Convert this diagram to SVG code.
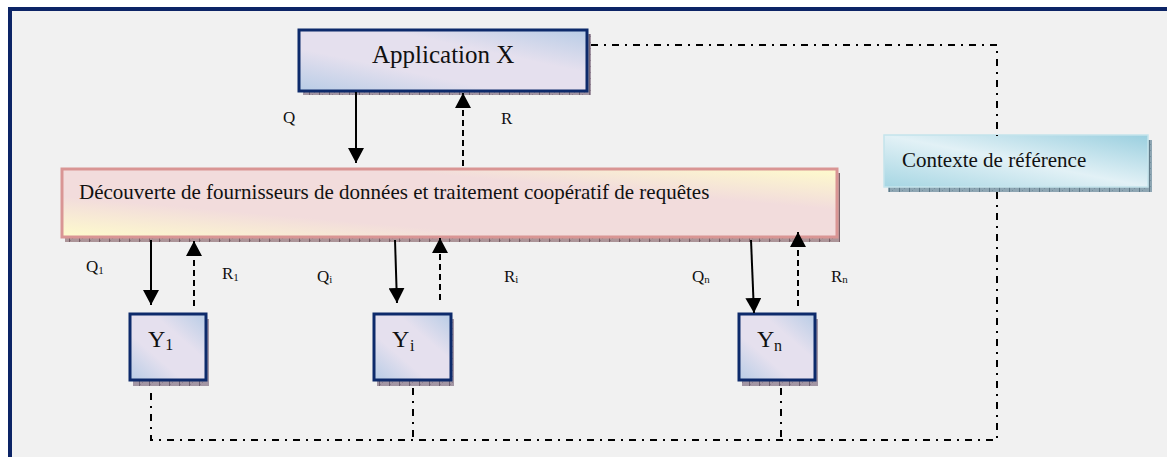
<svg xmlns="http://www.w3.org/2000/svg" width="1167" height="457" viewBox="0 0 1167 457">
  <defs>
    <style>
      text { font-family: "Liberation Serif", "Times New Roman", serif; fill: #111; }
      .lbl { font-size: 17px; }
      .sub { font-size: 11px; }
      .big { font-size: 25px; }
      .ytxt { font-size: 24px; }
      .ysub { font-size: 16px; }
      .mid { font-size: 21px; }
      .solid { stroke: #000; stroke-width: 2; fill: none; }
      .dash { stroke: #000; stroke-width: 2; fill: none; stroke-dasharray: 6 4; }
      .dashdot { stroke: #000; stroke-width: 2; fill: none; stroke-dasharray: 7 6 2 6; }
      .bluebox { fill: url(#gBlue); stroke: #0d2a6b; stroke-width: 3; }
    </style>
    <linearGradient id="gBlue" x1="0" y1="1" x2="1" y2="0">
      <stop offset="0" stop-color="#b8cce6"/>
      <stop offset="0.35" stop-color="#e5e0ee"/>
      <stop offset="0.65" stop-color="#e5e0ee"/>
      <stop offset="1" stop-color="#b8cce6"/>
    </linearGradient>
    <linearGradient id="gPink" x1="0" y1="1" x2="1" y2="0">
      <stop offset="0" stop-color="#fefbcc"/>
      <stop offset="0.3" stop-color="#f2dcdc"/>
      <stop offset="0.7" stop-color="#f2dcdc"/>
      <stop offset="1" stop-color="#fefbcc"/>
    </linearGradient>
    <linearGradient id="gCyan" x1="0" y1="1" x2="1" y2="0">
      <stop offset="0" stop-color="#a6d6e3"/>
      <stop offset="0.5" stop-color="#e2f1f6"/>
      <stop offset="1" stop-color="#9acfdf"/>
    </linearGradient>
    <pattern id="shPurple" width="10" height="6" patternUnits="userSpaceOnUse">
      <rect width="10" height="6" fill="#a396a4"/>
      <rect x="0" y="0" width="1" height="1" fill="#8a7c8c"/>
      <rect x="4" y="2" width="1" height="1" fill="#8a7c8c"/>
      <rect x="2" y="4" width="1" height="1" fill="#8a7c8c"/>
      <rect x="9" y="0" width="1" height="6" fill="#6f6272"/>
    </pattern>
    <pattern id="shPink" width="10" height="6" patternUnits="userSpaceOnUse">
      <rect width="10" height="6" fill="#ac9498"/>
      <rect x="0" y="0" width="1" height="1" fill="#8f7a80"/>
      <rect x="4" y="2" width="1" height="1" fill="#8f7a80"/>
      <rect x="2" y="4" width="1" height="1" fill="#8f7a80"/>
      <rect x="9" y="0" width="1" height="6" fill="#7a5f66"/>
    </pattern>
    <pattern id="shCyan" width="10" height="6" patternUnits="userSpaceOnUse">
      <rect width="10" height="6" fill="#8ea6b3"/>
      <rect x="0" y="0" width="1" height="1" fill="#73909e"/>
      <rect x="4" y="2" width="1" height="1" fill="#73909e"/>
      <rect x="2" y="4" width="1" height="1" fill="#73909e"/>
      <rect x="9" y="0" width="1" height="6" fill="#5f7a88"/>
    </pattern>
    <marker id="arr" markerUnits="userSpaceOnUse" markerWidth="15" markerHeight="16" refX="15" refY="8" orient="auto" viewBox="0 0 15 16">
      <path d="M0,0 L15,8 L0,16 z" fill="#000"/>
    </marker>
  </defs>

  <!-- frame -->
  <rect x="0" y="0" width="1167" height="457" fill="#ffffff"/>
  <rect x="10" y="9" width="1200" height="500" fill="#f1f1f1" stroke="#0c2466" stroke-width="4"/>

  <!-- nodes -->
  <g id="application-x">
    <rect x="303" y="34" width="288" height="61" fill="url(#shPurple)"/>
    <rect x="299" y="30" width="288" height="61" class="bluebox"/>
    <text x="372" y="63" class="big">Application X</text>
  </g>

  <g id="decouverte">
    <rect x="65" y="173" width="775" height="69" fill="url(#shPink)"/>
    <rect x="62" y="169" width="775" height="68" fill="url(#gPink)" stroke="#d99594" stroke-width="3"/>
    <text x="79" y="199" class="mid">Découverte de fournisseurs de données et traitement coopératif de requêtes</text>
  </g>

  <g id="contexte">
    <rect x="888" y="140" width="264" height="52" fill="url(#shCyan)"/>
    <rect x="884" y="135" width="264" height="52" fill="url(#gCyan)" stroke="#c4e4ec" stroke-width="1.5"/>
    <text x="902" y="167" class="mid">Contexte de référence</text>
  </g>

  <g id="y1">
    <rect x="133" y="319" width="76" height="67" fill="url(#shPurple)"/>
    <rect x="130" y="314" width="76" height="66" class="bluebox"/>
    <text x="148" y="347" class="ytxt">Y<tspan class="ysub" dy="3">1</tspan></text>
  </g>

  <g id="yi">
    <rect x="377" y="319" width="77" height="67" fill="url(#shPurple)"/>
    <rect x="374" y="314" width="77" height="66" class="bluebox"/>
    <text x="392" y="347" class="ytxt">Y</text>
    <text x="410" y="351" class="ysub">i</text>
  </g>

  <g id="yn">
    <rect x="742" y="319" width="76" height="67" fill="url(#shPurple)"/>
    <rect x="739" y="314" width="76" height="66" class="bluebox"/>
    <text x="757" y="347" class="ytxt">Y</text>
    <text x="774" y="351" class="ysub">n</text>
  </g>

  <!-- connectors -->
  <g id="connectors">
    <line x1="356" y1="92" x2="356" y2="163" class="solid" marker-end="url(#arr)"/>
    <line x1="463" y1="166" x2="463" y2="93" class="dash" marker-end="url(#arr)"/>

    <line x1="151" y1="240" x2="151" y2="305" class="solid" marker-end="url(#arr)"/>
    <line x1="194" y1="306" x2="194" y2="241" class="dash" marker-end="url(#arr)"/>

    <line x1="395" y1="240" x2="397" y2="303" class="solid" marker-end="url(#arr)"/>
    <line x1="440" y1="300" x2="440" y2="238" class="dash" marker-end="url(#arr)"/>

    <line x1="751" y1="240" x2="754" y2="313" class="solid" marker-end="url(#arr)"/>
    <line x1="798" y1="306" x2="798" y2="232" class="dash" marker-end="url(#arr)"/>

    <path d="M591,45 H997 V136" class="dashdot"/>
    <path d="M997,192 V440 H151 V388" class="dashdot"/>
    <path d="M413,388 V440" class="dashdot"/>
    <path d="M781,388 V440" class="dashdot"/>
  </g>

  <!-- labels -->
  <g id="labels">
    <text x="283" y="123" class="lbl">Q</text>
    <text x="501" y="124" class="lbl">R</text>
    <text x="86" y="272" class="lbl">Q<tspan class="sub" dy="2">1</tspan></text>
    <text x="222" y="279" class="lbl">R<tspan class="sub" dy="2">1</tspan></text>
    <text x="317" y="282" class="lbl">Q<tspan class="sub" dy="1">i</tspan></text>
    <text x="504" y="282" class="lbl">R<tspan class="sub" dy="1">i</tspan></text>
    <text x="692" y="282" class="lbl">Q<tspan class="sub" dy="1">n</tspan></text>
    <text x="831" y="282" class="lbl">R<tspan class="sub" dy="1">n</tspan></text>
  </g>
</svg>
